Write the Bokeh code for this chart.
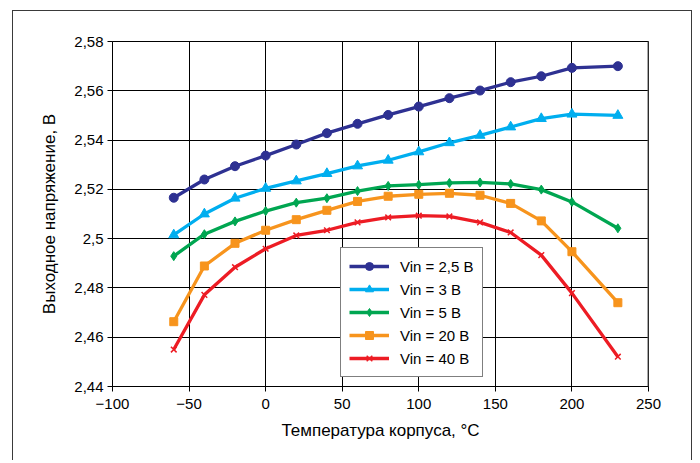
from bokeh.plotting import figure
from bokeh.models import Range1d, FixedTicker, Legend, LegendItem, Span
from bokeh.embed import file_html
from bokeh.resources import INLINE

# ---- data ----
temps = [-60, -40, -20, 0, 20, 40, 60, 80, 100, 120, 140, 160, 180, 200, 230]
v_2_5 = [2.5166, 2.5240, 2.5294, 2.5337, 2.5382, 2.5428, 2.5466, 2.5502, 2.5536,
         2.5570, 2.5601, 2.5635, 2.5659, 2.5693, 2.5700]
v_3 = [2.5015, 2.5100, 2.5164, 2.5204, 2.5234, 2.5264, 2.5295, 2.5318, 2.5352,
       2.5389, 2.5419, 2.5453, 2.5487, 2.5505, 2.5500]
v_5 = [2.4929, 2.5018, 2.5070, 2.5112, 2.5146, 2.5164, 2.5193, 2.5214, 2.5219,
       2.5226, 2.5228, 2.5222, 2.5199, 2.5149, 2.5042]
v_20 = [2.4663, 2.4889, 2.4981, 2.5034, 2.5077, 2.5115, 2.5151, 2.5172, 2.5180,
        2.5184, 2.5176, 2.5143, 2.5072, 2.4947, 2.4740]
v_40 = [2.4550, 2.4772, 2.4884, 2.4959, 2.5013, 2.5034, 2.5066, 2.5086, 2.5093,
        2.5090, 2.5066, 2.5025, 2.4933, 2.4779, 2.4521]

series_labels = ["Vin = 2,5 В", "Vin = 3 В", "Vin = 5 В", "Vin = 20 В", "Vin = 40 В"]
series_values = [v_2_5, v_3, v_5, v_20, v_40]
colors = ["#2E3192", "#00AEEF", "#00A651", "#F7941D", "#ED1C24"]
markers = ["circle", "triangle", "diamond", "square", "x"]
marker_sizes = [9, 10, 9, 8, 8]

x_ticks = [-100, -50, 0, 50, 100, 150, 200, 250]
x_tick_labels = ["−100", "−50", "0", "50", "100", "150", "200", "250"]
y_ticks = [2.44, 2.46, 2.48, 2.50, 2.52, 2.54, 2.56, 2.58]
y_tick_labels = ["2,44", "2,46", "2,48", "2,5", "2,52", "2,54", "2,56", "2,58"]

FONT = "Liberation Sans"

p = figure(width=680, height=450, output_backend="svg", toolbar_location=None,
           x_range=Range1d(-100, 250), y_range=Range1d(2.44, 2.58),
           min_border_left=99, min_border_right=45, min_border_top=30,
           min_border_bottom=75)
p.styles = {"margin-left": "12px", "margin-top": "10px",
            "border-left": "1.5px solid #3a3a3a", "border-top": "1.5px solid #3a3a3a",
            "border-right": "1.5px solid #3a3a3a"}

p.outline_line_color = "black"
p.outline_line_width = 1
p.background_fill_color = "white"
p.border_fill_color = "white"

for ax in (p.xaxis[0], p.yaxis[0]):
    ax.axis_line_color = "black"
    ax.major_tick_line_color = "black"
    ax.major_tick_out = 5
    ax.major_tick_in = 0
    ax.minor_tick_line_color = None
    ax.major_label_text_font = FONT
    ax.major_label_text_font_size = "15px"
    ax.major_label_text_color = "black"
    ax.axis_label_text_font = FONT
    ax.axis_label_text_font_size = "17px"
    ax.axis_label_text_font_style = "normal"
    ax.axis_label_text_color = "black"

p.xaxis.ticker = FixedTicker(ticks=x_ticks)
p.xaxis.major_label_overrides = dict(zip(x_ticks, x_tick_labels))
p.yaxis.ticker = FixedTicker(ticks=y_ticks)
p.yaxis.major_label_overrides = dict(zip(y_ticks, y_tick_labels))
p.xaxis.axis_label = "Температура корпуса, °C"
p.yaxis.axis_label = "Выходное напряжение, В"
p.xaxis.major_label_standoff = 7
p.yaxis.major_label_standoff = 4
p.xaxis.axis_label_standoff = 9
p.yaxis.axis_label_standoff = 12

p.xgrid.ticker = FixedTicker(ticks=x_ticks)
p.ygrid.ticker = FixedTicker(ticks=y_ticks)
for g in (p.xgrid[0], p.ygrid[0]):
    g.grid_line_color = "black"
    g.grid_line_width = 1
    g.grid_line_alpha = 1.0

p.add_layout(Span(location=250, dimension="height", line_color="#555555", line_width=2))

items = []
for lbl, vals, c, m, s in zip(series_labels, series_values, colors, markers, marker_sizes):
    r1 = p.line(temps, vals, line_color=c, line_width=3.3, line_join="round")
    r2 = p.scatter(temps, vals, marker=m, size=s, fill_color=c, line_color=c,
                   line_width=1.5 if m == "x" else 1)
    items.append(LegendItem(label=lbl, renderers=[r1, r2]))

legend = Legend(items=items, location=(228, 9))
legend.label_text_font = FONT
legend.label_text_font_size = "15px"
legend.label_text_color = "black"
legend.glyph_width = 40
legend.glyph_height = 20
legend.label_height = 20
legend.label_standoff = 11
legend.spacing = 3
legend.padding = 8
legend.margin = 0
legend.border_line_color = "black"
legend.border_line_width = 1
legend.background_fill_color = "white"
legend.background_fill_alpha = 1
p.add_layout(legend, "center")

open("out.html", "w").write(file_html(p, INLINE))
